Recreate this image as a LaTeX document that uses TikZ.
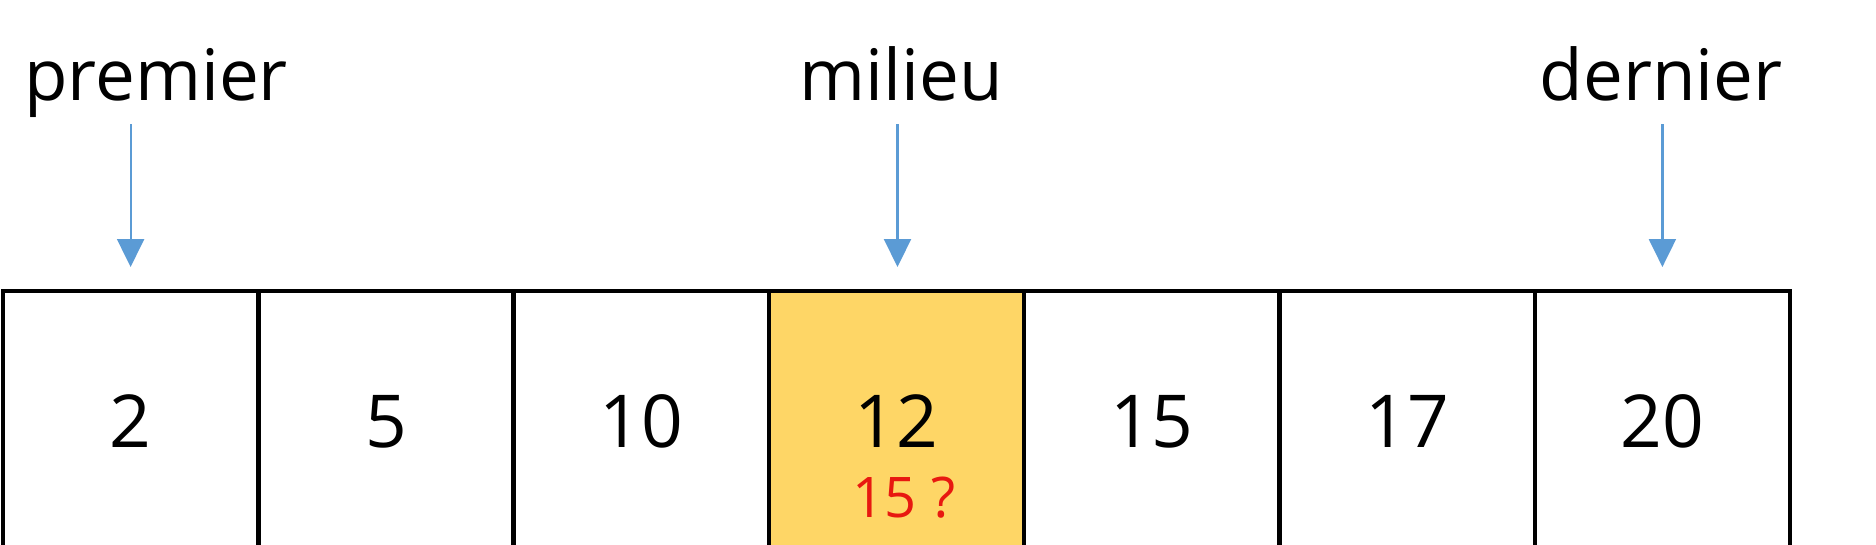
\documentclass[tikz,border=0pt]{standalone}
\usepackage{fontspec}
\setmainfont{Open Sans}
\usetikzlibrary{arrows.meta}
\definecolor{arrowblue}{RGB}{91,155,213}
\definecolor{cellyellow}{RGB}{254,214,102}
\definecolor{qred}{RGB}{232,24,16}
\begin{document}
\begin{tikzpicture}[x=1pt,y=-1pt,
 cellbox/.style={draw=black,line width=4.5pt,minimum width=255.3pt,minimum height=320pt,anchor=north west,inner sep=0pt,outer sep=0pt},
 num/.style={anchor=base,font=\fontsize{73}{88}\selectfont,inner sep=0pt},
 qnum/.style={anchor=base,text=qred,font=\fontsize{56}{68}\selectfont,inner sep=0pt},
 lbl/.style={anchor=base,font=\fontsize{71}{86}\selectfont,inner sep=0pt},
 ptr/.style={draw=arrowblue,line width=2.2pt,-{Triangle[width=27pt,length=28pt]}}]
\useasboundingbox (0,0) rectangle (1876,544);
\fill[white] (0,0) rectangle (1876,544);
\clip (0,0) rectangle (1876,544);
% cells
\node[cellbox] (c1) at (3,291) {};
\node[cellbox] (c2) at (258.3,291) {};
\node[cellbox] (c3) at (513.6,291) {};
\node[cellbox,fill=cellyellow] (c4) at (768.9,291) {};
\node[cellbox] (c5) at (1024.2,291) {};
\node[cellbox] (c6) at (1279.5,291) {};
\node[cellbox] (c7) at (1534.8,291) {};
% numbers
\node[num] (n1) at (130.6,447) {2};
\node[num] (n2) at (385.9,447) {5};
\node[num] (n3) at (641.2,447) {10};
\node[num] (n4) at (896.5,447) {12};
\node[num] (n5) at (1151.8,447) {15};
\node[num] (n6) at (1407.1,447) {17};
\node[num] (n7) at (1662.4,447) {20};
\node[qnum] (q) at (904,517) {15 ?};
% labels
\node[lbl] (lp) at (156,100) {premier};
\node[lbl] (lm) at (901,100) {milieu};
\node[lbl] (ld) at (1661,100) {dernier};
% pointers
\coordinate (a1s) at (130.6,124); \coordinate (a1e) at (130.6,267);
\coordinate (a4s) at (897.5,124); \coordinate (a4e) at (897.5,267);
\coordinate (a7s) at (1662.4,124); \coordinate (a7e) at (1662.4,267);
\draw[ptr] (a1s) -- (a1e);
\draw[ptr] (a4s) -- (a4e);
\draw[ptr] (a7s) -- (a7e);
\end{tikzpicture}
\end{document}
